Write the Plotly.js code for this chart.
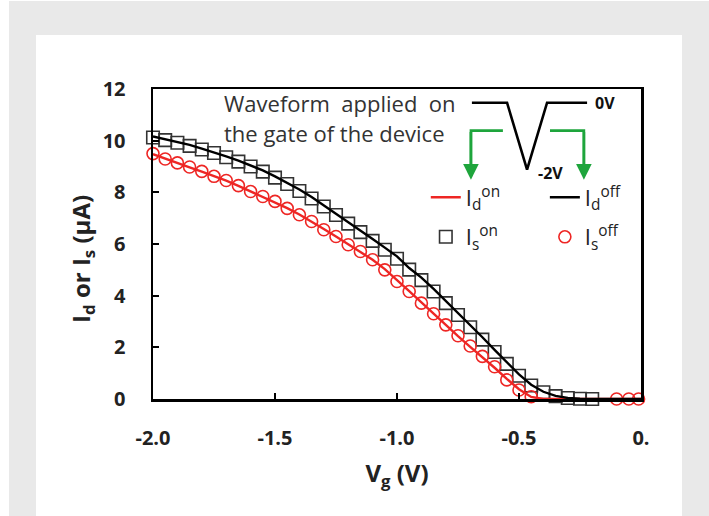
<!DOCTYPE html>
<html>
<head>
<meta charset="utf-8">
<script src="https://cdn.plot.ly/plotly-3.0.1.min.js"></script>
<style>
  html, body { margin: 0; padding: 0; background: #ffffff; width: 709px; height: 516px; overflow: hidden; }
  #gray { position: absolute; left: 9px; top: 1px; width: 700px; height: 515px; background: #e9e9e9; }
  #white { position: absolute; left: 36px; top: 35px; width: 646px; height: 481px; background: #ffffff; }
  #chart { position: absolute; left: 0; top: 0; width: 709px; height: 516px; }
</style>
</head>
<body>
<div id="gray"></div>
<div id="white"></div>
<div id="chart"></div>
<script>
// ---- data ----
const Vg_line = [-2.00,-1.95,-1.90,-1.85,-1.80,-1.75,-1.70,-1.65,-1.60,-1.55,-1.50,-1.45,-1.40,-1.35,-1.30,-1.25,-1.20,-1.15,-1.10,-1.05,-1.00,-0.95,-0.90,-0.85,-0.80,-0.75,-0.70,-0.65,-0.60,-0.55,-0.50,-0.45,-0.40,-0.35,-0.30,-0.25,-0.20,-0.15,-0.10,-0.05,0.00];
const Id_on  = [9.48,9.30,9.13,8.97,8.80,8.63,8.45,8.25,8.04,7.84,7.63,7.39,7.14,6.87,6.58,6.29,5.99,5.70,5.39,5.03,4.62,4.18,3.74,3.30,2.86,2.43,2.02,1.62,1.21,0.78,0.38,0.08,0.00,0.00,0.00,0.00,0.00,0.00,0.00,0.00,0.00];
const Id_off = [10.16,10.06,9.96,9.84,9.69,9.55,9.39,9.23,9.05,8.85,8.62,8.38,8.11,7.82,7.50,7.17,6.85,6.52,6.19,5.86,5.52,5.07,4.70,4.26,3.80,3.34,2.87,2.39,1.90,1.42,0.95,0.55,0.28,0.12,0.04,0.01,0.00,0.00,0.00,0.00,0.00];

const Vg_son = [-2.00,-1.95,-1.90,-1.85,-1.80,-1.75,-1.70,-1.65,-1.60,-1.55,-1.50,-1.45,-1.40,-1.35,-1.30,-1.25,-1.20,-1.15,-1.10,-1.05,-1.00,-0.95,-0.90,-0.85,-0.80,-0.75,-0.70,-0.65,-0.60,-0.55,-0.50,-0.45,-0.40,-0.35,-0.30,-0.25,-0.20];
const Is_on  = [10.12,10.02,9.92,9.80,9.66,9.52,9.36,9.19,9.00,8.80,8.57,8.32,8.05,7.76,7.45,7.12,6.79,6.46,6.12,5.78,5.43,5.01,4.60,4.16,3.71,3.25,2.78,2.30,1.82,1.36,0.90,0.52,0.26,0.11,0.04,0.01,0.00];

const Vg_soff = [-2.00,-1.95,-1.90,-1.85,-1.80,-1.75,-1.70,-1.65,-1.60,-1.55,-1.50,-1.45,-1.40,-1.35,-1.30,-1.25,-1.20,-1.15,-1.10,-1.05,-1.00,-0.95,-0.90,-0.85,-0.80,-0.75,-0.70,-0.65,-0.60,-0.55,-0.50,-0.45,-0.10,-0.05,-0.01];
const Is_off  = [9.50,9.29,9.14,8.98,8.81,8.62,8.46,8.26,8.03,7.84,7.65,7.38,7.13,6.87,6.55,6.29,5.97,5.71,5.39,5.00,4.55,4.16,3.71,3.30,2.87,2.45,2.05,1.65,1.25,0.74,0.35,0.09,0.00,0.00,0.00];

// inset: gate waveform schematic (in axis units)
const waveV = [-0.693,-0.549,-0.467,-0.385,-0.221];
const waveI = [11.47,11.47,8.88,11.47,11.47];
const arrowLeftV  = [-0.566,-0.697,-0.697];
const arrowLeftI  = [10.39,10.39,8.70];
const arrowRightV = [-0.373,-0.234,-0.234];
const arrowRightI = [10.39,10.39,8.70];
const arrowTipI = 8.49;

const xTickVals = [-2.0,-1.5,-1.0,-0.5,0.0];
const xTickText = ['-2.0','-1.5','-1.0','-0.5','0.'];
const yTickVals = [0,2,4,6,8,10,12];

const RED = 'rgb(238,38,36)';
const GREEN = 'rgb(30,165,60)';
const FONT = 'Open Sans, Liberation Sans, sans-serif';

const traces = [
  { x: Vg_son, y: Is_on, mode: 'markers', name: 'I<sub>s</sub><sup>on</sup>',
    marker: { symbol: 'square-open', size: 12.5, color: '#333333', line: { width: 1.6 } },
    cliponaxis: false, legend: 'legend', legendgroup: 'g2', legendrank: 2 },
  { x: Vg_soff, y: Is_off, mode: 'markers', name: 'I<sub>s</sub><sup>off</sup>',
    marker: { symbol: 'circle-open', size: 12, color: RED, line: { width: 1.6 } },
    cliponaxis: false, legend: 'legend2', legendgroup: 'g4', legendrank: 2 },
  { x: Vg_line, y: Id_on, mode: 'lines', name: 'I<sub>d</sub><sup>on</sup>',
    line: { color: RED, width: 2.4 }, legend: 'legend', legendgroup: 'g1', legendrank: 1 },
  { x: Vg_line, y: Id_off, mode: 'lines', name: 'I<sub>d</sub><sup>off</sup>',
    line: { color: '#000000', width: 2.4 }, legend: 'legend2', legendgroup: 'g3', legendrank: 1 },
  { x: waveV, y: waveI, mode: 'lines', showlegend: false, hoverinfo: 'skip',
    line: { color: '#000000', width: 2.6 } },
  { x: arrowLeftV, y: arrowLeftI, mode: 'lines', showlegend: false, hoverinfo: 'skip',
    line: { color: GREEN, width: 2.6 } },
  { x: arrowRightV, y: arrowRightI, mode: 'lines', showlegend: false, hoverinfo: 'skip',
    line: { color: GREEN, width: 2.6 } }
];

const legendCommon = {
  bgcolor: 'rgba(0,0,0,0)', borderwidth: 0,
  font: { family: FONT, size: 22, color: '#222222' },
  traceorder: 'grouped', tracegroupgap: 8,
  yanchor: 'top', xanchor: 'left', itemwidth: 30
};

const layout = {
  width: 709, height: 516,
  margin: { l: 153, r: 68, t: 89, b: 117 },
  paper_bgcolor: 'rgba(0,0,0,0)',
  plot_bgcolor: '#ffffff',
  font: { family: FONT, color: '#222222' },
  showlegend: true,
  legend: Object.assign({}, legendCommon, { x: 0.559, y: 0.718 }),
  legend2: Object.assign({}, legendCommon, { x: 0.803, y: 0.718 }),
  xaxis: {
    range: [-2.0, 0.0], tickvals: xTickVals, ticktext: xTickText,
    ticks: 'inside', ticklen: 6, tickwidth: 2, tickcolor: '#000',
    showline: true, linewidth: 2.5, linecolor: '#000', mirror: true,
    showgrid: false, zeroline: false,
    ticklabelstandoff: 19,
    tickfont: { family: FONT, size: 20, color: '#222', weight: 'bold' },
    title: { text: '<b>V<sub>g</sub> (V)</b>', standoff: 16,
             font: { family: FONT, size: 24, color: '#222' } },
    automargin: false
  },
  yaxis: {
    range: [0, 12], tickvals: yTickVals,
    ticks: 'inside', ticklen: 6, tickwidth: 2, tickcolor: '#000',
    showline: true, linewidth: 2.5, linecolor: '#000', mirror: true,
    showgrid: false, zeroline: false,
    ticklabelstandoff: 21,
    tickfont: { family: FONT, size: 20, color: '#222', weight: 'bold' },
    automargin: false
  },
  annotations: [
    { x: -0.1455, y: 0.452, xref: 'paper', yref: 'paper', xanchor: 'center', yanchor: 'middle',
      textangle: -90, text: '<b>I<sub>d</sub> or I<sub>s</sub> (μA)</b>', showarrow: false,
      font: { family: FONT, size: 24, color: '#222' } },
    { x: -1.716, y: 11.47, xref: 'x', yref: 'y', xanchor: 'left', yanchor: 'middle',
      text: 'Waveform&nbsp; applied&nbsp; on', showarrow: false,
      font: { family: FONT, size: 22, color: '#333' } },
    { x: -1.716, y: 10.31, xref: 'x', yref: 'y', xanchor: 'left', yanchor: 'middle',
      text: 'the gate of the device', showarrow: false,
      font: { family: FONT, size: 22, color: '#333' } },
    { x: -0.148, y: 11.47, xref: 'x', yref: 'y', xanchor: 'center', yanchor: 'middle',
      text: '<b>0V</b>', showarrow: false,
      font: { family: FONT, size: 16, color: '#111' } },
    { x: -0.369, y: 8.76, xref: 'x', yref: 'y', xanchor: 'center', yanchor: 'middle',
      text: '<b>-2V</b>', showarrow: false,
      font: { family: FONT, size: 16, color: '#111' } },
    { x: arrowLeftV[2], y: arrowTipI, xref: 'x', yref: 'y', axref: 'x', ayref: 'y',
      ax: arrowLeftV[2], ay: arrowLeftI[1], text: '', showarrow: true,
      arrowhead: 2, arrowsize: 1.2, arrowwidth: 2.6, arrowcolor: GREEN },
    { x: arrowRightV[2], y: arrowTipI, xref: 'x', yref: 'y', axref: 'x', ayref: 'y',
      ax: arrowRightV[2], ay: arrowRightI[1], text: '', showarrow: true,
      arrowhead: 2, arrowsize: 1.2, arrowwidth: 2.6, arrowcolor: GREEN }
  ]
};

Plotly.newPlot('chart', traces, layout, { displayModeBar: false, staticPlot: true });
</script>
</body>
</html>
